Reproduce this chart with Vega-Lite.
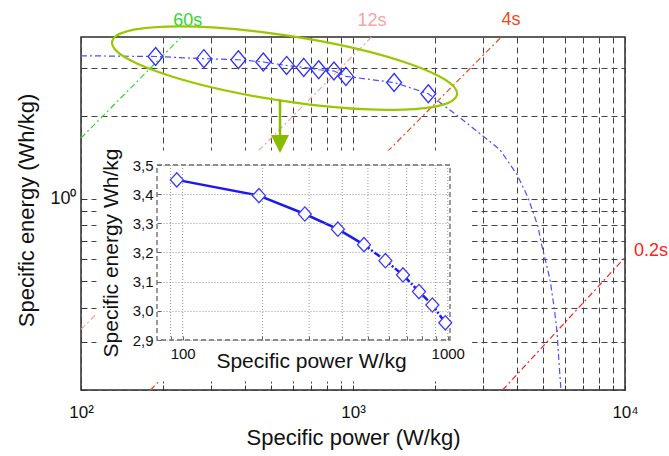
{
  "$schema": "https://vega.github.io/schema/vega-lite/v6.json",
  "width": 544,
  "height": 353,
  "autosize": "none",
  "padding": {"left": 81, "top": 37, "right": 44, "bottom": 66},
  "config": {
    "font": "Liberation Sans",
    "view": {"stroke": "#2b2b2b", "strokeWidth": 1.5},
    "axis": {"labelColor": "#111", "titleColor": "#111", "titleFontWeight": "normal", "labelFlush": false, "labelOverlap": false}
  },
  "datasets": {
    "ragone": [
      {"kind": "model", "p": 100, "e": 3.33},
      {"kind": "measured", "p": 188, "e": 3.31},
      {"kind": "measured", "p": 283, "e": 3.25},
      {"kind": "measured", "p": 379, "e": 3.22},
      {"kind": "measured", "p": 468, "e": 3.16},
      {"kind": "measured", "p": 570, "e": 3.07},
      {"kind": "measured", "p": 659, "e": 3.02},
      {"kind": "measured", "p": 748, "e": 2.96},
      {"kind": "measured", "p": 851, "e": 2.93},
      {"kind": "measured", "p": 942, "e": 2.8},
      {"kind": "measured", "p": 1416, "e": 2.66},
      {"kind": "measured", "p": 1892, "e": 2.42},
      {"kind": "model", "p": 2472, "e": 1.98},
      {"kind": "model", "p": 3467, "e": 1.513},
      {"kind": "model", "p": 4006, "e": 1.227},
      {"kind": "model", "p": 4399, "e": 1.011},
      {"kind": "model", "p": 4783, "e": 0.794},
      {"kind": "model", "p": 4953, "e": 0.67},
      {"kind": "model", "p": 5300, "e": 0.507},
      {"kind": "model", "p": 5483, "e": 0.404},
      {"kind": "model", "p": 5623, "e": 0.328},
      {"kind": "model", "p": 5718, "e": 0.253},
      {"kind": "model", "p": 5816, "e": 0.2}
    ],
    "inset": [
      {"p": 95, "e": 3.449},
      {"p": 194, "e": 3.395},
      {"p": 289, "e": 3.332},
      {"p": 385, "e": 3.28},
      {"p": 483, "e": 3.227},
      {"p": 582, "e": 3.172},
      {"p": 678, "e": 3.123},
      {"p": 779, "e": 3.066},
      {"p": 875, "e": 3.02},
      {"p": 979, "e": 2.959}
    ],
    "insetGrid": [
      {"p": 90}, {"p": 100}, {"p": 200}, {"p": 300}, {"p": 400}, {"p": 500},
      {"p": 600}, {"p": 700}, {"p": 800}, {"p": 900}, {"p": 1000}
    ],
    "tau": [
      {"tau": "60s", "p": 100, "e": 1.667},
      {"tau": "60s", "p": 234, "e": 3.9},
      {"tau": "12s", "p": 100, "e": 0.333},
      {"tau": "12s", "p": 1170, "e": 3.9},
      {"tau": "4s", "p": 180, "e": 0.2},
      {"tau": "4s", "p": 3510, "e": 3.9},
      {"tau": "0.2s", "p": 3550, "e": 0.2},
      {"tau": "0.2s", "p": 10000, "e": 0.61}
    ],
    "tauLabels": [
      {"tau": "60s", "p": 247, "e": 4.47},
      {"tau": "12s", "p": 1175, "e": 4.47},
      {"tau": "4s", "p": 3810, "e": 4.5},
      {"tau": "0.2s", "p": 12460, "e": 0.642}
    ]
  },
  "layer": [
    {
      "layer": [
        {
          "data": {"name": "tau"},
          "mark": {"type": "line", "strokeWidth": 1.2, "strokeDash": [6, 3, 2, 3]},
          "encoding": {
            "x": {
              "field": "p", "type": "quantitative",
              "scale": {"type": "log", "domain": [100, 10000], "nice": false},
              "axis": {
                "values": [100, 200, 300, 400, 500, 600, 700, 800, 900, 1000, 2000, 3000, 4000, 5000, 6000, 7000, 8000, 9000, 10000],
                "labelExpr": "datum.value == 100 ? '10²' : datum.value == 1000 ? '10³' : datum.value == 10000 ? '10⁴' : ''",
                "labelFontSize": 17, "labelPadding": 19,
                "tickSize": -5, "tickColor": "#333", "domain": false,
                "grid": true, "gridColor": "#444", "gridDash": [6, 4], "gridWidth": 1,
                "title": "Specific power (W/kg)", "titleFontSize": 22, "titleY": 54, "titleBaseline": "alphabetic"
              }
            },
            "y": {
              "field": "e", "type": "quantitative",
              "scale": {"type": "log", "domain": [0.2, 3.9], "nice": false},
              "axis": {
                "values": [0.2, 0.3, 0.4, 0.5, 0.6, 0.7, 0.8, 0.9, 1, 2, 3],
                "labelExpr": "datum.value == 1 ? '10⁰' : ''",
                "labelFontSize": 18, "labelPadding": 10,
                "tickSize": -5, "tickColor": "#333", "domain": false,
                "grid": true, "gridColor": "#444", "gridDash": [6, 4], "gridWidth": 1,
                "title": "Specific energy (Wh/kg)", "titleFontSize": 22, "titleX": -48, "titleY": 173, "titleBaseline": "alphabetic", "titleAlign": "center"
              }
            },
            "color": {
              "field": "tau", "type": "nominal",
              "scale": {"domain": ["60s", "12s", "4s", "0.2s"], "range": ["#2fd82f", "#f6a3a3", "#ec4a22", "#ff2020"]},
              "legend": null
            }
          }
        },
        {
          "data": {"name": "ragone"},
          "mark": {"type": "line", "color": "#4d4dff", "strokeWidth": 1.2, "strokeDash": [6, 3, 2, 3]},
          "encoding": {
            "x": {"field": "p", "type": "quantitative"},
            "y": {"field": "e", "type": "quantitative"}
          }
        },
        {
          "data": {"name": "ragone"},
          "transform": [{"filter": "datum.kind == 'measured'"}],
          "mark": {"type": "point", "shape": "M0,-1.2L1,0L0,1.2L-1,0Z", "size": 225, "filled": false, "color": "#2f2fff", "strokeWidth": 1.3, "opacity": 1},
          "encoding": {
            "x": {"field": "p", "type": "quantitative"},
            "y": {"field": "e", "type": "quantitative"}
          }
        },
        {
          "data": {"name": "tauLabels"},
          "mark": {"type": "text", "fontSize": 18, "clip": false, "align": "center", "baseline": "middle"},
          "encoding": {
            "x": {"field": "p", "type": "quantitative"},
            "y": {"field": "e", "type": "quantitative"},
            "text": {"field": "tau"},
            "color": {"field": "tau", "type": "nominal", "legend": null}
          }
        },
        {
          "data": {"values": [{}]},
          "mark": {"type": "rect", "fill": "white"},
          "encoding": {
            "x": {"datum": 114},
            "x2": {"datum": 2740},
            "y": {"datum": 0.215},
            "y2": {"datum": 1.5}
          }
        }
      ]
    },
    {
      "layer": [
        {
          "data": {"values": [{}]},
          "mark": {"type": "rect", "fillOpacity": 0, "stroke": "#666", "strokeDash": [5, 3], "strokeWidth": 1.3},
          "encoding": {
            "x": {"datum": 80, "scale": {"type": "log", "domain": [80, 1020], "range": [76, 369], "nice": false}},
            "x2": {"datum": 1020},
            "y": {"datum": 2.9, "scale": {"domain": [2.9, 3.5], "range": [303, 128], "nice": false, "zero": false}},
            "y2": {"datum": 3.5}
          }
        },
        {
          "data": {"name": "insetGrid"},
          "mark": {"type": "rule", "stroke": "#999", "strokeDash": [1, 2], "strokeWidth": 1},
          "encoding": {
            "x": {"field": "p", "type": "quantitative"},
            "y": {"datum": 2.9},
            "y2": {"datum": 3.5}
          }
        },
        {
          "data": {"name": "inset"},
          "transform": [{"filter": "datum.p <= 490"}],
          "mark": {"type": "line", "color": "#1a1aee", "strokeWidth": 2.5},
          "encoding": {
            "x": {
              "field": "p", "type": "quantitative",
              "scale": {"type": "log", "domain": [80, 1020], "range": [76, 369], "nice": false},
              "axis": {
                "orient": "bottom", "offset": -50, "zindex": 1,
                "values": [90, 100, 200, 300, 400, 500, 600, 700, 800, 900, 1000],
                "labelExpr": "datum.value == 100 ? '100' : datum.value == 1000 ? '1000' : ''",
                "labelFontSize": 15, "labelPadding": 10,
                "tickSize": -4, "tickColor": "#666", "domain": false, "grid": false,
                "title": "Specific power W/kg", "titleFontSize": 21, "titleX": 230, "titleY": 27, "titleBaseline": "alphabetic", "titleAlign": "center"
              }
            },
            "y": {
              "field": "e", "type": "quantitative",
              "scale": {"domain": [2.9, 3.5], "range": [303, 128], "nice": false, "zero": false},
              "axis": {
                "orient": "left", "offset": -76, "zindex": 1,
                "values": [2.9, 3.0, 3.1, 3.2, 3.3, 3.4, 3.5],
                "labelExpr": "replace(format(datum.value, '.1f'), '.', ',')",
                "labelFontSize": 15, "labelPadding": 8,
                "tickSize": -4, "tickColor": "#666", "domain": false,
                "grid": true, "gridColor": "#999", "gridDash": [1, 2], "gridWidth": 1,
                "title": "Specific energy Wh/kg", "titleFontSize": 21, "titleX": -40, "titleY": 215.5, "titleBaseline": "alphabetic", "titleAlign": "center"
              }
            }
          }
        },
        {
          "data": {"name": "inset"},
          "transform": [{"filter": "datum.p >= 480"}],
          "mark": {"type": "line", "color": "#1a1aee", "strokeWidth": 2.5, "strokeDash": [7, 2, 2, 2]},
          "encoding": {
            "x": {"field": "p", "type": "quantitative"},
            "y": {"field": "e", "type": "quantitative"}
          }
        },
        {
          "data": {"name": "inset"},
          "mark": {"type": "point", "shape": "M0,-1.1L1,0L0,1.1L-1,0Z", "size": 169, "filled": true, "fill": "white", "stroke": "#3a3aff", "strokeWidth": 1.3, "opacity": 1},
          "encoding": {
            "x": {"field": "p", "type": "quantitative"},
            "y": {"field": "e", "type": "quantitative"}
          }
        }
      ]
    },
    {
      "layer": [
        {
          "data": {"values": [{}]},
          "mark": {"type": "point", "shape": "M-1,0A1,0.187,0,1,1,1,0A1,0.187,0,1,1,-1,0Z", "size": 121800, "filled": false, "stroke": "#99c800", "strokeWidth": 2.2, "angle": 8.7, "opacity": 1},
          "encoding": {
            "x": {"datum": 560, "scale": {"type": "log", "domain": [100, 10000], "nice": false}, "axis": null},
            "y": {"datum": 3.0, "scale": {"type": "log", "domain": [0.2, 3.9], "nice": false}, "axis": null}
          }
        },
        {
          "data": {"values": [{}]},
          "mark": {"type": "rule", "stroke": "#88bb00", "strokeWidth": 2.5},
          "encoding": {
            "x": {"datum": 539},
            "y": {"datum": 2.3},
            "y2": {"datum": 1.69}
          }
        },
        {
          "data": {"values": [{}]},
          "mark": {"type": "point", "shape": "M-1,-1L1,-1L0,1Z", "size": 324, "filled": true, "color": "#88bb00", "opacity": 1},
          "encoding": {
            "x": {"datum": 539},
            "y": {"datum": 1.585}
          }
        }
      ]
    }
  ],
  "resolve": {
    "scale": {"x": "independent", "y": "independent"},
    "axis": {"x": "independent", "y": "independent"}
  }
}
